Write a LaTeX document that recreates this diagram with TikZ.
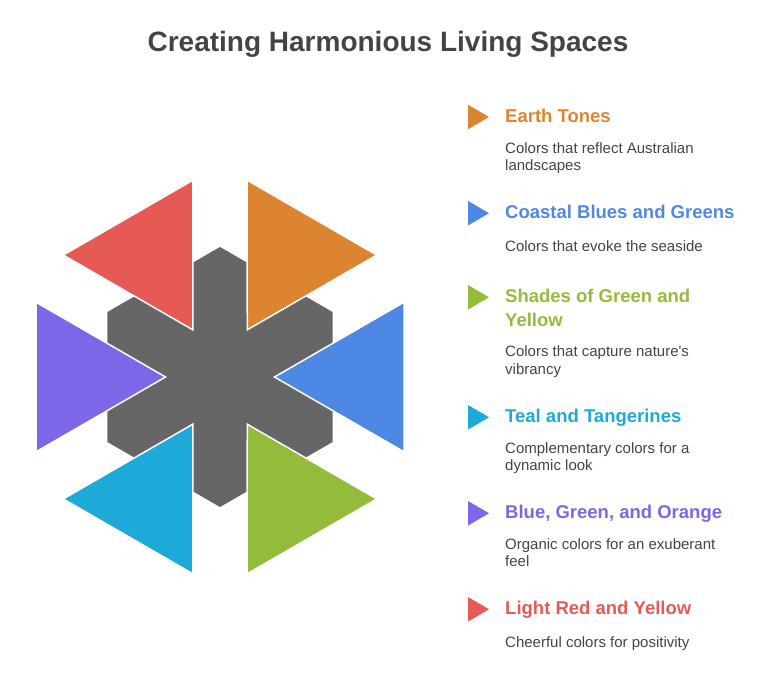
\documentclass[tikz,border=0pt]{standalone}
\usepackage{fontspec}
\setmainfont{Liberation Sans}
\usetikzlibrary{calc}
\definecolor{corange}{HTML}{DD8431}
\definecolor{cblue}{HTML}{4E88E5}
\definecolor{cgreen}{HTML}{93BC3A}
\definecolor{cteal}{HTML}{1EAAD9}
\definecolor{cpurple}{HTML}{7E66E8}
\definecolor{cred}{HTML}{E55A55}
\definecolor{cgrey}{HTML}{666666}
\definecolor{ctext}{HTML}{444444}
\tikzset{
  head/.style={anchor=base west, inner sep=0pt, font=\fontsize{18.5}{24}\selectfont\bfseries},
  desc/.style={anchor=base west, inner sep=0pt, text=ctext, font=\fontsize{15}{18}\selectfont},
  bigtri/.style={draw=white, line width=1.5pt, line join=miter},
}
\newcommand{\bigtriangleat}[2]{%
  \fill[#2, bigtri] ($(C)+(#1:54.5pt)$) -- ($(C)+(#1:184pt)+(#1+90:74.8pt)$) -- ($(C)+(#1:184pt)+(#1-90:74.8pt)$) -- cycle;}
\newcommand{\smalltri}[2]{%
  \fill[#2] (468,#1-12.3) -- (489,#1) -- (468,#1+12.3) -- cycle;}
\begin{document}
\begin{tikzpicture}[x=1pt,y=-1pt]
\useasboundingbox (0,0) rectangle (779,679);
\node[anchor=base, inner sep=0pt, text=ctext, font=\fontsize{28}{32}\selectfont\bfseries] (title) at (388,51.7) {Creating Harmonious Living Spaces};
\coordinate (C) at (220,377);
% central asterisk
\begin{scope}
  \clip (C) +(90:130pt) -- +(150:130pt) -- +(210:130pt) -- +(270:130pt) -- +(330:130pt) -- +(30:130pt) -- cycle;
  \foreach \a in {90,30,150} {
    \fill[cgrey, rotate around={\a:(C)}] ($(C)+(-150pt,-27pt)$) rectangle ($(C)+(150pt,27pt)$);
  }
\end{scope}
\bigtriangleat{0}{cblue}
\bigtriangleat{60}{corange}
\bigtriangleat{120}{cred}
\bigtriangleat{180}{cpurple}
\bigtriangleat{240}{cteal}
\bigtriangleat{300}{cgreen}
% legend
\smalltri{117}{corange}
\node[head, text=corange] (h1) at (505,122.7) {Earth Tones};
\node[desc] (d1) at (505,153.3) {\vtop{\baselineskip=17.5pt\hbox{Colors that reflect Australian}\hbox{landscapes}}};
\smalltri{213.2}{cblue}
\node[head, text=cblue] (h2) at (505,218.5) {Coastal Blues and Greens};
\node[desc] (d2) at (505,251.6) {Colors that evoke the seaside};
\smalltri{297.3}{cgreen}
\node[head, text=cgreen] (h3) at (505,302.4) {\vtop{\baselineskip=24.3pt\hbox{Shades of Green and}\hbox{Yellow}}};
\node[desc] (d3) at (505,356.7) {\vtop{\baselineskip=17.5pt\hbox{Colors that capture nature\textquotesingle s}\hbox{vibrancy}}};
\smalltri{417.3}{cteal}
\node[head, text=cteal] (h4) at (505,422.4) {Teal and Tangerines};
\node[desc] (d4) at (505,453.3) {\vtop{\baselineskip=17.5pt\hbox{Complementary colors for a}\hbox{dynamic look}}};
\smalltri{513.3}{cpurple}
\node[head, text=cpurple] (h5) at (505,518.4) {Blue, Green, and Orange};
\node[desc] (d5) at (505,549.3) {\vtop{\baselineskip=17.5pt\hbox{Organic colors for an exuberant}\hbox{feel}}};
\smalltri{609.3}{cred}
\node[head, text=cred] (h6) at (505,614.6) {Light Red and Yellow};
\node[desc] (d6) at (505,647.3) {Cheerful colors for positivity};
\end{tikzpicture}
\end{document}
